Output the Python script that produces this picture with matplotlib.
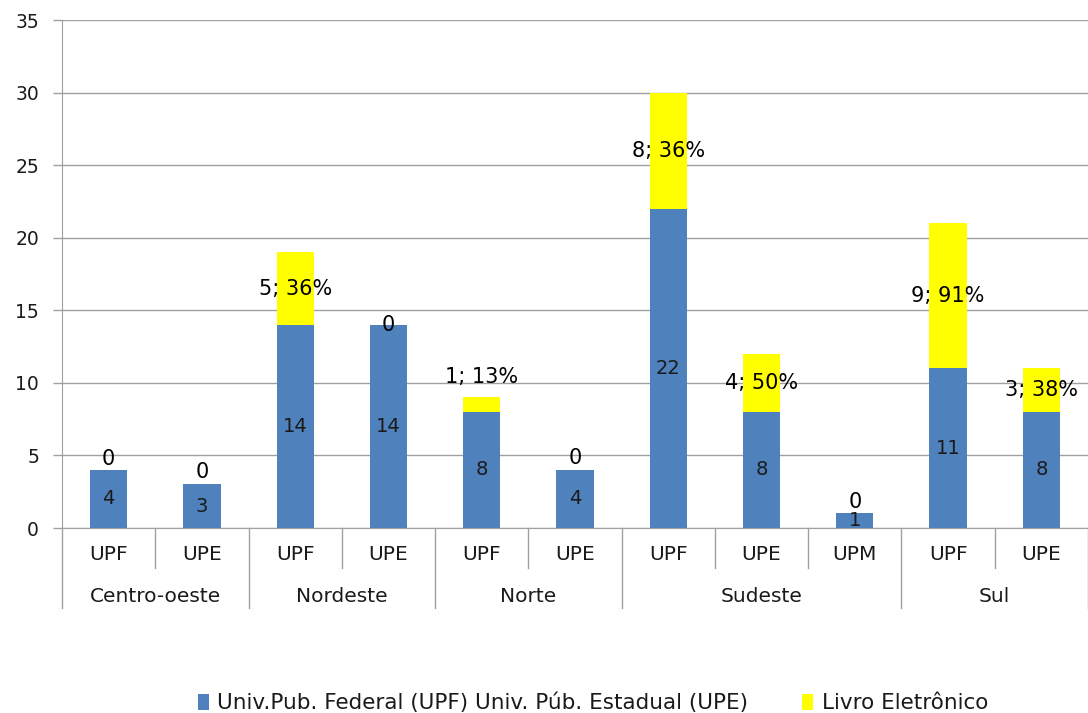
import matplotlib
matplotlib.use("Agg")
import matplotlib.pyplot as plt
from matplotlib.patches import Patch
from matplotlib.transforms import blended_transform_factory, offset_copy

# ---- data ----
regions = ["Centro-oeste", "Nordeste", "Norte", "Sudeste", "Sul"]
region_sizes = [2, 2, 2, 3, 2]
types = ["UPF", "UPE", "UPF", "UPE", "UPF", "UPE", "UPF", "UPE", "UPM", "UPF", "UPE"]
univ = [4, 3, 14, 14, 8, 4, 22, 8, 1, 11, 8]
livro = [0, 0, 5, 0, 1, 0, 8, 4, 0, 10, 3]
livro_labels = ["0", "0", "5; 36%", "0", "1; 13%", "0", "8; 36%", "4; 50%", "0", "9; 91%", "3; 38%"]
yticks = [0, 5, 10, 15, 20, 25, 30, 35]
series_names = ["Univ.Pub. Federal (UPF) Univ. Púb. Estadual (UPE)", "Livro Eletrônico"]

# ---- style / layout ----
label_lift_px = [11, 12, 0, 0, 28, 12, 0, 0, 11, 0, 0]
BLUE = "#4F81BD"
YELLOW = "#FFFF00"
GRID = "#A0A0A0"
TXT = "#1a1a1a"
W, H = 1088, 713
px = 72 / 100.0  # points per pixel

plt.rcParams["font.family"] = ["DejaVu Sans"]
fig = plt.figure(figsize=(W / 100, H / 100), dpi=100)
ax_left, ax_right, ax_bot, ax_top = 62, 1088, 528, 20
ax = fig.add_axes([ax_left / W, 1 - ax_bot / H, (ax_right - ax_left) / W, (ax_bot - ax_top) / H])
ax_h_px = ax_bot - ax_top

n = len(types)
x = list(range(n))
ax.bar(x, univ, width=0.4, color=BLUE, zorder=3)
ax.bar(x, livro, width=0.4, bottom=univ, color=YELLOW, zorder=3)

ax.set_xlim(-0.5, n - 0.5)
ax.set_ylim(0, 35)
ax.set_yticks(yticks)
ax.yaxis.grid(True, color=GRID, lw=1.0)
ax.set_axisbelow(True)
for s in ["top", "right"]:
    ax.spines[s].set_visible(False)
ax.spines["left"].set_color(GRID)
ax.spines["bottom"].set_color(GRID)
ax.tick_params(axis="y", length=9 * px, width=1.0, color=GRID, pad=14 * px, labelsize=13.5, labelcolor=TXT)
ax.set_xticks([])

# data labels
for i in range(n):
    ax.text(x[i], univ[i] / 2, str(univ[i]), ha="center", va="center", fontsize=14, color=TXT, zorder=4)
    tr = offset_copy(ax.transData, fig=fig, x=0, y=label_lift_px[i] * px, units="points")
    ax.text(x[i], univ[i] + livro[i] / 2, livro_labels[i], ha="center", va="center",
            fontsize=15, color="black", transform=tr, zorder=4)

# category axis
bt = blended_transform_factory(ax.transData, ax.transAxes)
for i in range(n):
    ax.text(x[i], -27 / ax_h_px, types[i], ha="center", va="center", fontsize=14.5, color=TXT, transform=bt)
boundaries = {-0.5}
pos = -0.5
centers = []
for r, s in zip(regions, region_sizes):
    centers.append(pos + s / 2)
    pos += s
    boundaries.add(pos)
for b in [i - 0.5 for i in range(n + 1)]:
    depth = 80 if b in boundaries else 40
    ax.plot([b, b], [0, -depth / ax_h_px], color=GRID, lw=1.0, transform=bt, clip_on=False)
for r, c in zip(regions, centers):
    ax.text(c, -68 / ax_h_px, r, ha="center", va="center", fontsize=14.5, color=TXT, transform=bt)

# legend
handles = [Patch(facecolor=BLUE, edgecolor="none"), Patch(facecolor=YELLOW, edgecolor="none")]
fig.legend(handles, series_names, loc="center", bbox_to_anchor=(593 / W, 1 - 703 / H), ncol=2,
           frameon=False, fontsize=15.5, handlelength=0.5, handleheight=0.75, handletextpad=0.4,
           columnspacing=2.5, labelcolor=TXT)

fig.savefig("out.png", dpi=100)
